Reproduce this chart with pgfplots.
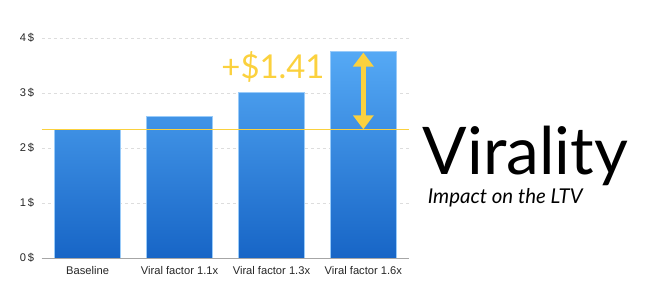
\documentclass[border=0pt]{standalone}
\usepackage{pgfplots}
\pgfplotsset{compat=1.18}
\usepackage{fontspec}
\setmainfont{Lato}
\newfontfamily\tickfont{Liberation Sans}
\usetikzlibrary{arrows.meta}
\definecolor{bartop}{HTML}{55A9F5}
\definecolor{barbot}{HTML}{1765C6}
\definecolor{yel}{HTML}{FBD13E}
\definecolor{gridc}{HTML}{DDDDDD}
\begin{document}
\begin{tikzpicture}
\begin{axis}[
  at={(0,0)}, anchor=south west,
  scale only axis, width=367.6bp, height=220bp,
  xmin=-0.5, xmax=3.5, ymin=0, ymax=4,
  xtick=data,
  xticklabels={Baseline,Viral factor 1.1x,Viral factor 1.3x,Viral factor 1.6x},
  ytick={0,1,2,3,4},
  yticklabel={\pgfmathprintnumber{\tick}\,\$},
  /pgf/number format/assume math mode=true,
  tick label style={font=\tickfont\fontsize{11.2}{13}\selectfont, text=black!85},
  axis line style={draw=none},
  axis x line*=bottom, axis y line*=left,
  major tick length=0pt,
  ymajorgrids, major grid style={gridc, dashed, line width=0.5pt},
  yticklabel style={xshift=-4bp},
  xticklabel style={yshift=-4.5bp},
  clip=false,
]
\addplot[ybar, bar width=66bp, draw=bartop!60!white, line width=0.6pt,
  top color=bartop, bottom color=barbot]
  coordinates {(0,2.34) (1,2.58) (2,3.005) (3,3.75)};
\draw[gray!70, line width=0.8pt] (axis cs:-0.5,0) -- (axis cs:3.5,0);
\draw[yel, line width=0.8pt] (axis cs:-0.5,2.34) -- (axis cs:3.5,2.34);
\draw[yel, line width=5bp, {Triangle[length=14bp,width=20bp]}-{Triangle[length=14bp,width=20bp]}]
  (axis cs:3,2.34) -- (axis cs:3,3.735);
\node[anchor=east, text=yel, inner sep=0pt, font=\fontsize{33}{36}\selectfont]
  at (axis cs:2.58,3.47) {+\$1.41};
\end{axis}
\node[anchor=base west, inner sep=0pt, font=\fontsize{66}{70}\selectfont] at (381bp,83bp) {Virality};
\node[anchor=base west, inner sep=0pt, font=\fontsize{20.5}{22}\selectfont\itshape] at (386bp,54bp) {Impact on the LTV};
\pgfresetboundingbox
\useasboundingbox (-41.7bp,-45bp) rectangle (604.3bp,258bp);
\end{tikzpicture}
\end{document}
